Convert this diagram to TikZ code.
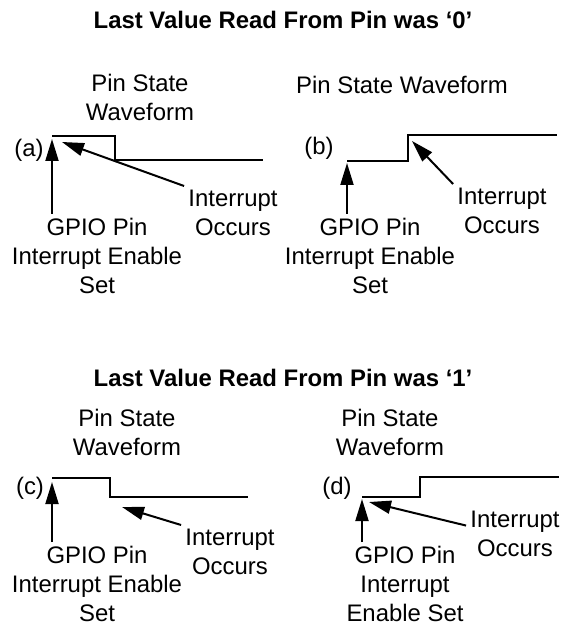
\documentclass[tikz,border=0pt]{standalone}
\usepackage{fontspec}
\setmainfont{Liberation Sans}
\usetikzlibrary{positioning, arrows.meta}
\definecolor{PrimaryColor}{RGB}{0,0,0}
\tikzstyle{wave} = [line width=1bp, PrimaryColor]
\tikzstyle{pointer} = [line width=1bp, PrimaryColor, -{Triangle[length=11bp, width=6.5bp]}]
\tikzstyle{note} = [align=center, inner sep=2bp, anchor=north, font=\fontsize{12}{14.5}\selectfont]
\tikzstyle{panel} = [inner sep=0pt, font=\fontsize{12}{14.5}\selectfont]
\tikzstyle{heading} = [inner sep=0pt, font=\fontsize{12}{14.5}\selectfont\bfseries]

\begin{document}
\begin{tikzpicture}[x=0.5bp, y=-0.5bp]
                \useasboundingbox (0,0) rectangle (564,624);

                % Headings
                \node[heading] (headzero) at (283,20) {Last Value Read From Pin was ‘0’};
                \node[heading] (headone) at (283,378) {Last Value Read From Pin was ‘1’};

                % (a) falling edge
                \node[note] (statea) at (140,70) {Pin State\\Waveform};
                \node[panel] (taga) at (29,150) {(a)};
                \draw[wave] (52,136) -- (115,136) -- (115,160) -- (263,160);
                \coordinate (enablea) at (52,139);
                \coordinate (irqa) at (62,142);
                \node[note] (gpioa) at (97,214) {GPIO Pin\\Interrupt Enable\\Set};
                \node[note] (inta) at (233,186) {Interrupt\\Occurs};
                \draw[pointer] (gpioa.north -| enablea) -- (enablea);
                \draw[pointer] (inta.north west) -- (irqa);

                % (b) rising edge
                \node[panel] (stateb) at (402,85) {Pin State Waveform};
                \node[panel] (tagb) at (319,148) {(b)};
                \draw[wave] (347,161) -- (408,161) -- (408,135) -- (557,135);
                \coordinate (enableb) at (347,163);
                \coordinate (irqb) at (412,141);
                \node[note] (gpiob) at (370,214) {GPIO Pin\\Interrupt Enable\\Set};
                \node[note] (intb) at (502,184) {Interrupt\\Occurs};
                \draw[pointer] (gpiob.north -| enableb) -- (enableb);
                \draw[pointer] (intb.north west) -- (irqb);

                % (c) falling edge
                \node[note] (statec) at (127,405) {Pin State\\Waveform};
                \node[panel] (tagc) at (30,488) {(c)};
                \draw[wave] (52,478) -- (110,478) -- (110,497) -- (248,497);
                \coordinate (enablec) at (52,482);
                \coordinate (irqc) at (122,507);
                \node[note] (gpioc) at (97,542) {GPIO Pin\\Interrupt Enable\\Set};
                \node[note] (intc) at (230,525) {Interrupt\\Occurs};
                \draw[pointer] (gpioc.north -| enablec) -- (enablec);
                \draw[pointer] (intc.north west) -- (irqc);

                % (d) rising edge
                \node[note] (stated) at (390,405) {Pin State\\Waveform};
                \node[panel] (tagd) at (337,488) {(d)};
                \draw[wave] (362,497) -- (420,497) -- (420,477) -- (559,477);
                \coordinate (enabled) at (362,499);
                \coordinate (irqd) at (369,502);
                \node[note] (gpiod) at (405,542) {GPIO Pin\\Interrupt\\Enable Set};
                \node[note] (intd) at (515,507) {Interrupt\\Occurs};
                \draw[pointer] (gpiod.north -| enabled) -- (enabled);
                \draw[pointer] (intd.170) -- (irqd);
            \end{tikzpicture}
\end{document}
